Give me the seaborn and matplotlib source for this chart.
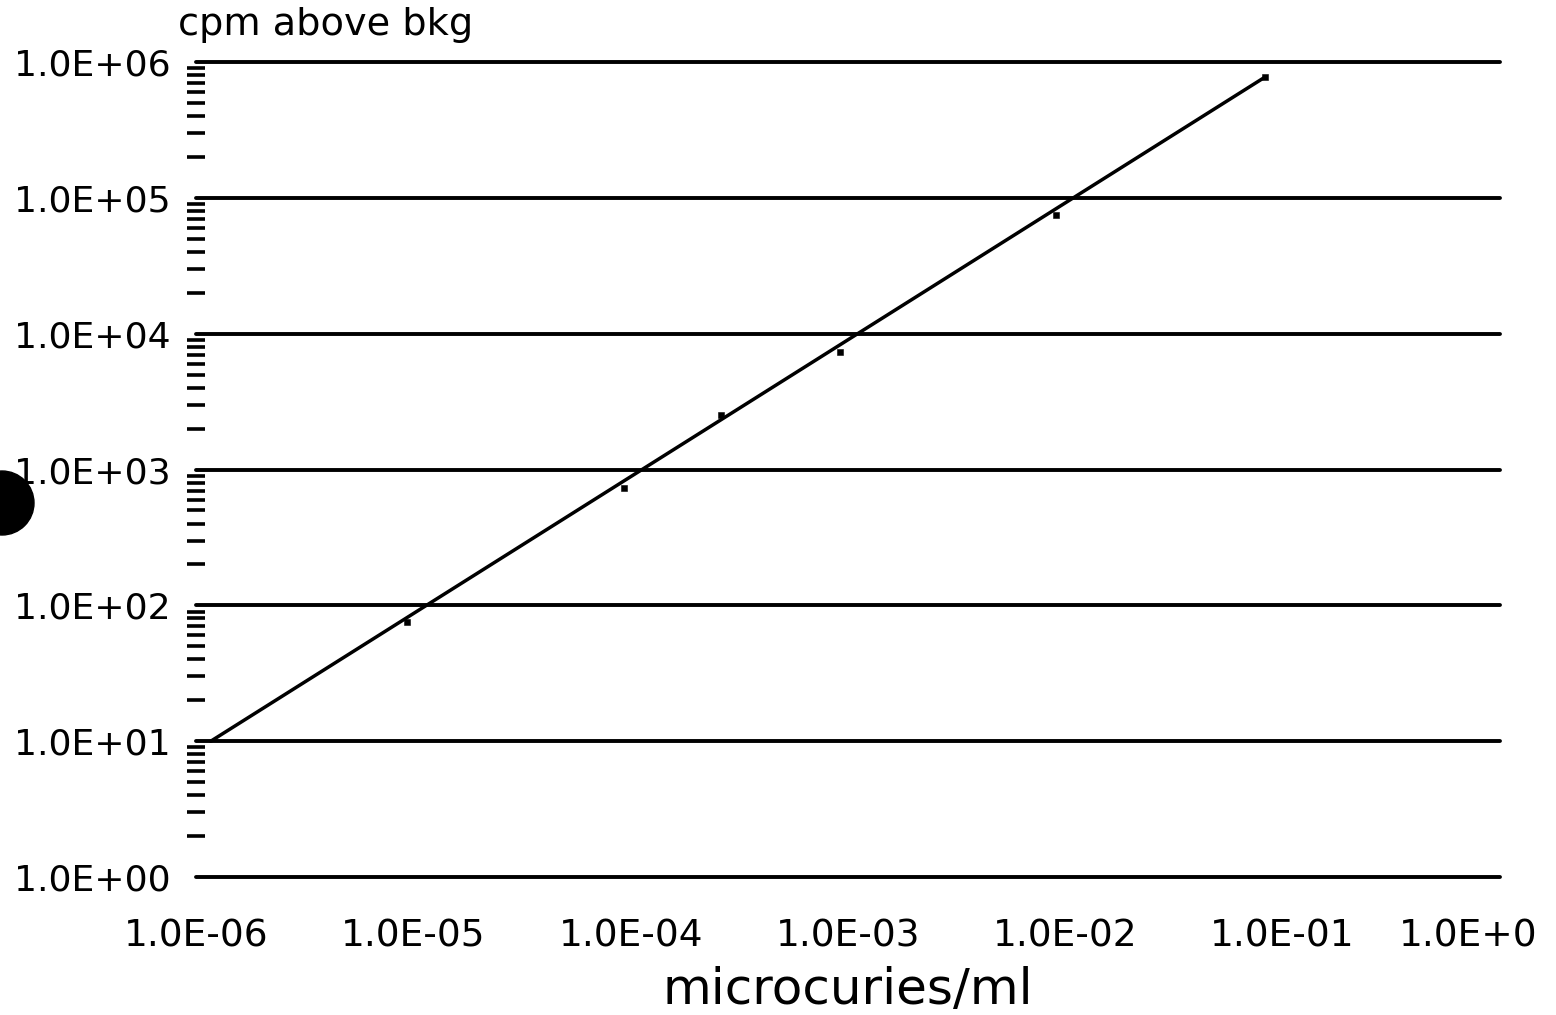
import numpy as np
import pandas as pd
import matplotlib
matplotlib.use("Agg")
import matplotlib.pyplot as plt
import matplotlib.transforms as mtrans
import seaborn as sns
from matplotlib.ticker import FixedLocator, LogLocator, NullFormatter, NullLocator
from matplotlib.patches import Ellipse

# ---- data ----
conc = [9.4e-6, 9.3e-5, 2.6e-4, 9.2e-4, 9.1e-3, 8.3e-2]        # microcuries/ml
cpm = [75, 730, 2500, 7300, 74700, 775000]                       # cpm above bkg
fit_x = [1.17e-6, 8.3e-2]
fit_y = [10, 775000]

x_ticks = [1e-6, 1e-5, 1e-4, 1e-3, 1e-2, 1e-1, 1e0]
x_tick_labels = ["1.0E-06", "1.0E-05", "1.0E-04", "1.0E-03", "1.0E-02", "1.0E-01", "1.0E+0"]
y_ticks = [1e0, 1e1, 1e2, 1e3, 1e4, 1e5, 1e6]
y_tick_labels = ["1.0E+00", "1.0E+01", "1.0E+02", "1.0E+03", "1.0E+04", "1.0E+05", "1.0E+06"]

x_label = "microcuries/ml"
y_label = "cpm above bkg"

# ---- plot ----
sns.set_theme(style="white")
plt.rcParams['font.family'] = ['DejaVu Sans']

W, H = 1556, 1015
fig = plt.figure(figsize=(W / 100, H / 100), dpi=100)
ax = fig.add_axes([196 / W, 1 - 877 / H, (1500 - 196) / W, (877 - 62) / H])

pts = pd.DataFrame({"x": conc, "y": cpm})
fit = pd.DataFrame({"x": fit_x, "y": fit_y})

sns.lineplot(data=fit, x="x", y="y", ax=ax, color="black", lw=2.5, zorder=3)
sns.scatterplot(data=pts, x="x", y="y", ax=ax, color="black", marker="s", s=22,
                edgecolor="black", zorder=4)

ax.set_xscale("log")
ax.set_yscale("log")
ax.set_xlim(1e-6, 1e0)
ax.set_ylim(1e0, 1e6)

for s in ax.spines.values():
    s.set_visible(False)

ax.xaxis.set_major_locator(FixedLocator(x_ticks))
ax.set_xticklabels(x_tick_labels)
ax.xaxis.set_minor_locator(NullLocator())
ax.yaxis.set_major_locator(FixedLocator(y_ticks))
ax.set_yticklabels(y_tick_labels)
ax.yaxis.set_minor_locator(LogLocator(base=10, subs=np.arange(2, 10)))
ax.yaxis.set_minor_formatter(NullFormatter())

ax.tick_params(axis="x", which="major", length=0, pad=30, labelsize=27, colors="black")
ax.tick_params(axis="y", which="major", length=0, pad=18, labelsize=26, colors="black")
ax.tick_params(axis="y", which="minor", left=True, direction="inout", length=13.5, width=2.6,
               color="black")

# last x label sits a little to the left (cut at the page edge)
lbl = ax.get_xticklabels()[-1]
lbl.set_transform(lbl.get_transform() + mtrans.ScaledTranslation(-32 / 100, 0, fig.dpi_scale_trans))

ax.grid(False)
ax.yaxis.grid(True, which="major", color="black", lw=2.8)
for gl in ax.get_ygridlines():
    gl.set_clip_on(False)
ax.set_axisbelow(True)

ax.set_xlabel(x_label, fontsize=36, labelpad=8, color="black")
ax.set_ylabel("")
fig.text(178 / W, 1 - 25 / H, y_label, fontsize=27.5, ha="left", va="center", color="black")

# hole-punch mark at the left edge of the scanned page
r = 32
fig.patches.append(Ellipse((2 / W, 1 - 503 / H), 2 * r / W, 2 * r / H, transform=fig.transFigure,
                           color="black", zorder=10))

fig.savefig("out.png", dpi=100, facecolor="white")
